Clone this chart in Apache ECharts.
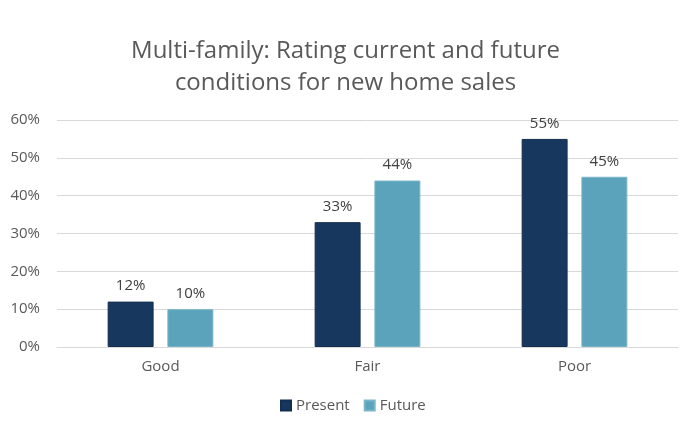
<!DOCTYPE html>
<html><head><meta charset="utf-8">
<script src="https://cdn.jsdelivr.net/npm/echarts@6/dist/echarts.min.js"></script>
<style>html,body{margin:0;padding:0;background:#fff}#c{width:691px;height:448px}</style>
</head><body><div id="c"></div>
<script>
const categories = ['Good', 'Fair', 'Poor'];
const present = [12, 33, 55];
const future = [10, 44, 45];
const yTicks = [0, 10, 20, 30, 40, 50, 60];

const font = 'Open Sans, Noto Sans, sans-serif';
const chart = echarts.init(document.getElementById('c'));
chart.setOption({
  animation: false,
  title: {
    text: 'Multi-family: Rating current and future\nconditions for new home sales',
    left: 'center', top: 30,
    textStyle: { fontFamily: font, fontSize: 24, fontWeight: 'normal', color: '#595959', lineHeight: 32 }
  },
  legend: {
    bottom: 30, left: 275, itemWidth: 10, itemHeight: 10, itemGap: 14,
    icon: 'rect',
    textStyle: { fontFamily: font, fontSize: 15, color: '#595959' },
    data: ['Present', 'Future']
  },
  grid: { left: 57, right: 13, top: 120, bottom: 101, containLabel: false },
  xAxis: {
    type: 'category', data: categories,
    axisLine: { lineStyle: { color: '#d9d9d9' } },
    axisTick: { show: false },
    axisLabel: { fontFamily: font, fontSize: 15, color: '#595959', margin: 12 }
  },
  yAxis: {
    type: 'value', min: yTicks[0], max: yTicks[yTicks.length - 1], interval: 10,
    axisLine: { show: false }, axisTick: { show: false },
    splitLine: { lineStyle: { color: '#d9d9d9' } },
    axisLabel: { fontFamily: font, fontSize: 15, color: '#595959', margin: 17, formatter: v => v + '%' }
  },
  series: [
    {
      name: 'Present', type: 'bar', data: present, barWidth: '22.2%', barGap: '30%',
      itemStyle: { color: '#17375e', borderColor: '#132f50', borderWidth: 1 },
      label: { show: true, position: 'top', distance: 8, fontFamily: font, fontSize: 15, color: '#404040', formatter: p => p.value + '%' }
    },
    {
      name: 'Future', type: 'bar', data: future, barWidth: '22.2%',
      itemStyle: { color: '#5ba3ba', borderColor: '#79b5c7', borderWidth: 1 },
      label: { show: true, position: 'top', distance: 8, fontFamily: font, fontSize: 15, color: '#404040', formatter: p => p.value + '%' }
    }
  ]
});
</script></body></html>
